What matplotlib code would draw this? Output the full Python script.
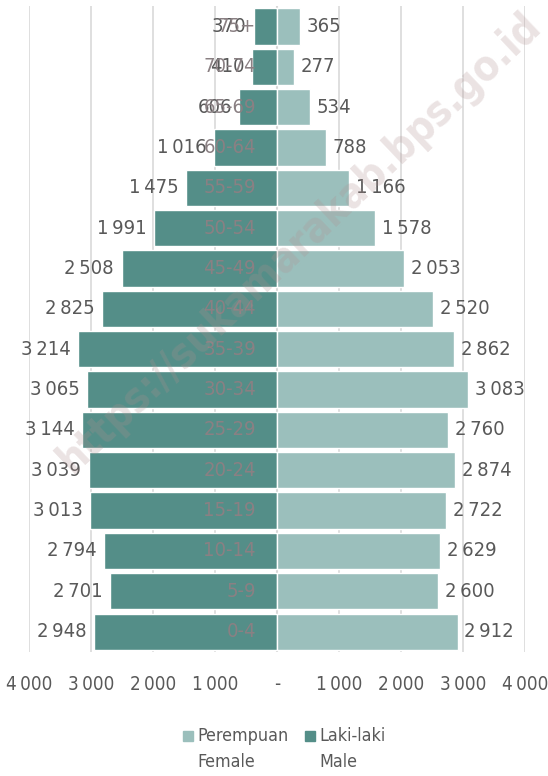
import numpy as np
import matplotlib
matplotlib.use("Agg")
import matplotlib.pyplot as plt
from matplotlib.patches import Rectangle

# data
ages = ["0-4", "5-9", "10-14", "15-19", "20-24", "25-29", "30-34", "35-39",
        "40-44", "45-49", "50-54", "55-59", "60-64", "65-69", "70-74", "75+"]
male = [2948, 2701, 2794, 3013, 3039, 3144, 3065, 3214,
        2825, 2508, 1991, 1475, 1016, 606, 410, 370]
female = [2912, 2600, 2629, 2722, 2874, 2760, 3083, 2862,
          2520, 2053, 1578, 1166, 788, 534, 277, 365]
xticks = [-4000, -3000, -2000, -1000, 0, 1000, 2000, 3000, 4000]
legend_labels = [("Perempuan", "Female"), ("Laki-laki", "Male")]

c_male = "#548e88"
c_female = "#9bbfbc"
plt.rcParams["font.family"] = ["DejaVu Sans"]
plt.rcParams["font.stretch"] = "condensed"


def fmt(v):
    v = abs(int(v))
    if v == 0:
        return "-"
    return "{:,}".format(v).replace(",", "\u2009")


W, H = 548, 776
fig = plt.figure(figsize=(W / 100, H / 100), dpi=100)
ax = fig.add_axes([0.053, 0.160, 0.905, 0.832])

y = np.arange(len(ages))
ax.barh(y, [-m for m in male], height=0.9, color=c_male, edgecolor="white", linewidth=1, zorder=2)
ax.barh(y, female, height=0.9, color=c_female, edgecolor="white", linewidth=1, zorder=2)

for i in range(len(ages)):
    ax.text(-male[i] - 120, y[i], fmt(male[i]), ha="right", va="center",
            fontsize=14.5, color="#595959", zorder=4)
    ax.text(female[i] + 110, y[i], fmt(female[i]), ha="left", va="center",
            fontsize=14.5, color="#595959", zorder=4)
    ax.text(-340, y[i], ages[i], ha="right", va="center",
            fontsize=14.5, color="#8a8083", zorder=4)

ax.set_xlim(-4000, 4000)
ax.set_ylim(-0.5, len(ages) - 0.5)
ax.set_xticks(xticks)
ax.set_xticklabels([fmt(t) for t in xticks], fontsize=13.5, color="#595959")
ax.set_yticks([])
ax.tick_params(axis="x", length=0, pad=17)
ax.grid(axis="x", color="#d9d9d9", linewidth=1.2, zorder=0)
ax.axvline(0, color="#d9d9d9", linewidth=1.5, zorder=1)
for s in ax.spines.values():
    s.set_visible(False)

# watermark
fig.text(0.547, 0.688, "https://sukamarakab.bps.go.id", rotation=43.5,
         ha="center", va="center", fontsize=30, fontweight="bold",
         color="#b09090", alpha=0.25, zorder=10)

# legend: square aligned with first line, second line below
for (x0, col, (l1, l2)) in zip([183, 305], [c_female, c_male], legend_labels):
    fig.patches.append(Rectangle((x0 / W, 1 - 741 / H), 10 / W, 10 / H,
                                 transform=fig.transFigure, color=col))
    fig.text((x0 + 14) / W, 1 - 736 / H, l1, ha="left", va="center",
             fontsize=12.8, color="#595959")
    fig.text((x0 + 14) / W, 1 - 762 / H, l2, ha="left", va="center",
             fontsize=12.8, color="#595959")

fig.savefig("out.png", dpi=100)
